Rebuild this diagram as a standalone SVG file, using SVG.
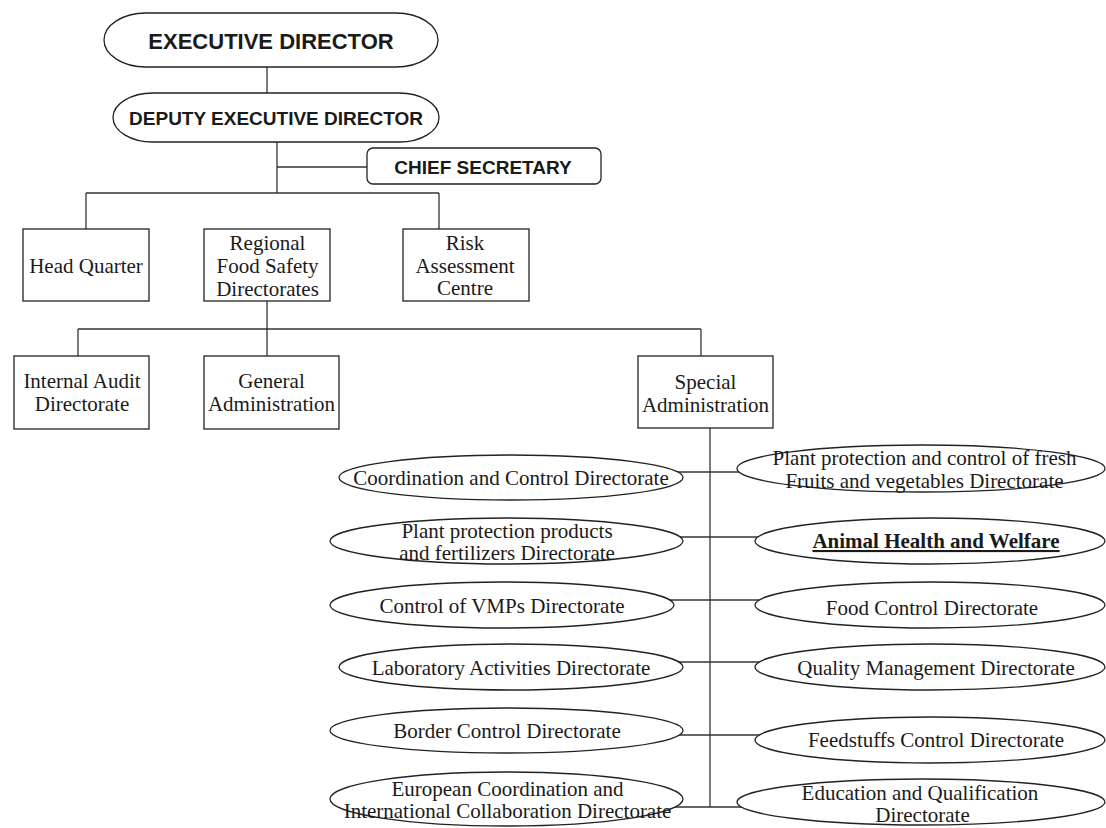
<svg xmlns="http://www.w3.org/2000/svg" width="1106" height="828" viewBox="0 0 1106 828">
<style>
.shape{fill:#fff;stroke:#222;stroke-width:1.3}
.conn line{stroke:#333;stroke-width:1.3}
.sans{font-family:"Liberation Sans",Arial,sans-serif;font-weight:bold;fill:#1a1a1a;text-anchor:middle}
.serif{font-family:"Liberation Serif","Times New Roman",serif;font-size:21px;fill:#1a1a1a;text-anchor:middle}
</style>
<rect width="1106" height="828" fill="#fff"/>
<g id="connectors" class="conn">
<line x1="267" y1="67" x2="267" y2="93"/>
<line x1="277" y1="142" x2="277" y2="193"/>
<line x1="277" y1="167" x2="367" y2="167"/>
<line x1="86" y1="193" x2="439" y2="193"/>
<line x1="86" y1="193" x2="86" y2="229"/>
<line x1="439" y1="193" x2="439" y2="229"/>
<line x1="267" y1="301" x2="267" y2="356"/>
<line x1="78" y1="329" x2="701" y2="329"/>
<line x1="78" y1="329" x2="78" y2="356"/>
<line x1="701" y1="329" x2="701" y2="356"/>
<line x1="710" y1="428" x2="710" y2="807"/>
<line x1="670" y1="472" x2="745" y2="472"/>
<line x1="670" y1="537" x2="765" y2="537"/>
<line x1="665" y1="600" x2="765" y2="600"/>
<line x1="670" y1="662" x2="765" y2="662"/>
<line x1="670" y1="735" x2="765" y2="735"/>
<line x1="670" y1="807" x2="745" y2="807"/>
</g>
<g id="executive-director">
<rect class="shape" x="104" y="13" width="334" height="54" rx="42" ry="27"/>
<text class="sans" x="271" y="49" font-size="22">EXECUTIVE DIRECTOR</text>
</g>
<g id="deputy-executive-director">
<rect class="shape" x="113" y="93" width="326" height="49" rx="40" ry="24.5"/>
<text class="sans" x="276" y="125" font-size="19">DEPUTY EXECUTIVE DIRECTOR</text>
</g>
<g id="chief-secretary">
<rect class="shape" x="367" y="148" width="234" height="36" rx="6"/>
<text class="sans" x="483" y="174" font-size="19">CHIEF SECRETARY</text>
</g>
<g id="head-quarter">
<rect class="shape" x="23" y="229" width="126" height="72"/>
<text class="serif" x="86" y="273">Head Quarter</text>
</g>
<g id="regional-food-safety">
<rect class="shape" x="204" y="229" width="126" height="72"/>
<text class="serif" x="267.5" y="250">Regional</text>
<text class="serif" x="267.5" y="273">Food Safety</text>
<text class="serif" x="267.5" y="296">Directorates</text>
</g>
<g id="risk-assessment">
<rect class="shape" x="403" y="229" width="126" height="72"/>
<text class="serif" x="465" y="250">Risk</text>
<text class="serif" x="465" y="273">Assessment</text>
<text class="serif" x="465" y="295">Centre</text>
</g>
<g id="internal-audit">
<rect class="shape" x="14" y="356" width="135" height="73"/>
<text class="serif" x="82" y="388">Internal Audit</text>
<text class="serif" x="82" y="411">Directorate</text>
</g>
<g id="general-administration">
<rect class="shape" x="204" y="356" width="135" height="73"/>
<text class="serif" x="271.5" y="388">General</text>
<text class="serif" x="271.5" y="411">Administration</text>
</g>
<g id="special-administration">
<rect class="shape" x="638" y="356" width="135" height="72"/>
<text class="serif" x="705.5" y="389">Special</text>
<text class="serif" x="705.5" y="412">Administration</text>
</g>
<g id="coordination-control">
<ellipse class="shape" cx="511" cy="477.5" rx="172" ry="22.5"/>
<text class="serif" x="511" y="485">Coordination and Control Directorate</text>
</g>
<g id="plant-protection-products">
<ellipse class="shape" cx="506.5" cy="541" rx="176.5" ry="23"/>
<text class="serif" x="507" y="538">Plant protection products</text>
<text class="serif" x="507" y="560">and fertilizers Directorate</text>
</g>
<g id="control-vmps">
<ellipse class="shape" cx="502" cy="605" rx="172" ry="23"/>
<text class="serif" x="502" y="613">Control of VMPs Directorate</text>
</g>
<g id="laboratory-activities">
<ellipse class="shape" cx="511" cy="667" rx="172" ry="23"/>
<text class="serif" x="511" y="675">Laboratory Activities Directorate</text>
</g>
<g id="border-control">
<ellipse class="shape" cx="506.5" cy="730.5" rx="176.5" ry="22.5"/>
<text class="serif" x="507" y="738">Border Control Directorate</text>
</g>
<g id="european-coordination">
<ellipse class="shape" cx="506.5" cy="799" rx="176.5" ry="27"/>
<text class="serif" x="507.5" y="796" font-size="20">European Coordination and</text>
<text class="serif" x="507.5" y="818" font-size="20">International Collaboration Directorate</text>
</g>
<g id="plant-protection-fresh">
<ellipse class="shape" cx="921" cy="468.5" rx="184" ry="23.5"/>
<text class="serif" x="924.5" y="465">Plant protection and control of fresh</text>
<text class="serif" x="924.5" y="488">Fruits and vegetables Directorate</text>
</g>
<g id="animal-health-welfare">
<ellipse class="shape" cx="930" cy="541" rx="175" ry="23"/>
<text class="serif" x="936" y="548" font-weight="bold" text-decoration="underline">Animal Health and Welfare</text>
</g>
<g id="food-control">
<ellipse class="shape" cx="930" cy="605" rx="175" ry="23"/>
<text class="serif" x="932" y="615">Food Control Directorate</text>
</g>
<g id="quality-management">
<ellipse class="shape" cx="930" cy="667" rx="175" ry="23"/>
<text class="serif" x="936" y="675">Quality Management Directorate</text>
</g>
<g id="feedstuffs-control">
<ellipse class="shape" cx="930" cy="740" rx="175" ry="23"/>
<text class="serif" x="936" y="747">Feedstuffs Control Directorate</text>
</g>
<g id="education-qualification">
<ellipse class="shape" cx="921" cy="802" rx="184" ry="23"/>
<text class="serif" x="920" y="800">Education and Qualification</text>
<text class="serif" x="922.5" y="822">Directorate</text>
</g>
</svg>
